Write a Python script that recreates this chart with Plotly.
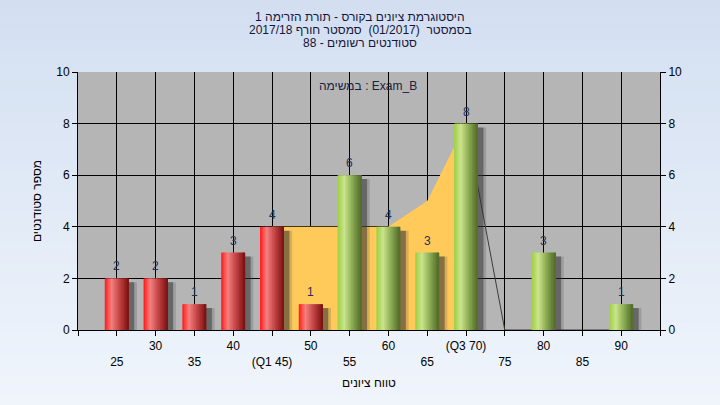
import plotly.graph_objects as go

# ---------------- data ----------------
categories = [25, 30, 35, 40, 45, 50, 55, 60, 65, 70, 75, 80, 85, 90]
tick_labels = ["25", "30", "35", "40", "(Q1 45)", "50", "55", "60", "65",
               "(Q3 70)", "75", "80", "85", "90"]
counts = [2, 2, 1, 3, 4, 1, 6, 4, 3, 8, 0, 3, 0, 1]

iqr_x = [45, 50, 55, 60, 65, 70]
iqr_y = [4, 4, 4, 4, 5, 8]

outline_x = [70, 75, 80, 85, 90]
outline_y = [8, 0, 0, 0, 0]

title_lines = [
    "היסטוגרמת ציונים בקורס - תורת הזרימה 1",
    "בסמסטר  (01/2017)  סמסטר חורף 2017/18",
    "סטודנטים רשומים - 88",
]
series_label = "במשימה : Exam_B"
x_title = "טווח ציונים"
y_title = "מספר סטודנטים"

PASS_GRADE = 55

# ---------------- styling ----------------
FONT = "Liberation Sans, Arial, DejaVu Sans, sans-serif"
W, H = 720, 405
ML, MR, MT, MB = 78, 60, 72, 75
PW, PH = W - ML - MR, H - MT - MB
X_RANGE = [20, 95]
BAR_W = 3.1
N_STRIPES = 16

RED_STOPS = [(0.0, (255, 22, 22)), (0.12, (255, 70, 70)), (0.28, (242, 128, 128)),
             (0.55, (205, 78, 78)), (0.85, (150, 34, 34)), (1.0, (120, 18, 18))]
GREEN_STOPS = [(0.0, (158, 206, 66)), (0.12, (176, 216, 98)), (0.28, (202, 228, 142)),
               (0.55, (150, 182, 92)), (0.85, (100, 128, 54)), (1.0, (82, 108, 42))]


def lerp(stops, t):
    for (t0, c0), (t1, c1) in zip(stops, stops[1:]):
        if t0 <= t <= t1:
            f = (t - t0) / (t1 - t0)
            return "rgb(%d,%d,%d)" % tuple(round(a + (b - a) * f) for a, b in zip(c0, c1))
    return "rgb(%d,%d,%d)" % stops[-1][1]


fig = go.Figure()

# IQR area (base axes, behind bars)
fig.add_trace(go.Scatter(x=iqr_x, y=iqr_y, mode="lines", fill="tozeroy",
                         fillcolor="rgb(255,202,90)", line=dict(width=0),
                         hoverinfo="skip", showlegend=False))
# outline line
fig.add_trace(go.Scatter(x=outline_x, y=outline_y, mode="lines",
                         line=dict(color="rgb(60,60,60)", width=1),
                         hoverinfo="skip", showlegend=False))

# shadows (overlay axes)
shadow_vals = [c - 0.15 if c > 0 else 0 for c in counts]
for off, col in [(1.05, "rgba(60,60,60,0.2)"), (0.7, "rgba(50,50,50,0.5)")]:
    fig.add_trace(go.Bar(x=categories, y=shadow_vals, width=BAR_W,
                         offset=-BAR_W / 2 + off,
                         marker=dict(color=col, line=dict(width=0)),
                         xaxis="x2", yaxis="y2", hoverinfo="skip", showlegend=False))

# gradient bars built from vertical stripes
step = BAR_W / N_STRIPES
for i in range(N_STRIPES):
    t = (i + 0.5) / N_STRIPES
    cols = [lerp(GREEN_STOPS if c >= PASS_GRADE else RED_STOPS, t) for c in categories]
    w = min(step * 1.6, BAR_W - i * step)
    fig.add_trace(go.Bar(x=categories, y=counts, width=w,
                         offset=-BAR_W / 2 + i * step,
                         marker=dict(color=cols, line=dict(width=0)),
                         xaxis="x2", yaxis="y2", hoverinfo="skip", showlegend=False))

# background gradient + plot area
shapes = []
n_bg = 40
y_lo, y_hi = -MB / PH, 1 + MT / PH
x_lo, x_hi = -ML / PW, 1 + MR / PW
top_c, bot_c = (211, 223, 241), (240, 245, 252)
for k in range(n_bg):
    f = k / (n_bg - 1)
    c = tuple(round(a + (b - a) * f) for a, b in zip(top_c, bot_c))
    y1 = y_hi - (y_hi - y_lo) * k / n_bg
    y0 = y_hi - (y_hi - y_lo) * (k + 1) / n_bg - 0.002
    shapes.append(dict(type="rect", xref="paper", yref="paper", x0=x_lo, x1=x_hi,
                       y0=y0, y1=y1, fillcolor="rgb(%d,%d,%d)" % c,
                       line=dict(width=0), layer="below"))
shapes.append(dict(type="rect", xref="paper", yref="paper", x0=0, x1=1, y0=0, y1=1,
                   fillcolor="rgb(181,181,181)", line=dict(width=0), layer="below"))

annotations = []
for ypx, line in zip([17, 30, 43], title_lines):
    annotations.append(dict(text=line, xref="paper", yref="paper",
                            x=(360 - ML) / PW, y=(H - MB - ypx) / PH,
                            xanchor="center", yanchor="middle", showarrow=False,
                            font=dict(size=12, color="#16163a", family=FONT)))
annotations.append(dict(text=series_label, xref="paper", yref="paper",
                        x=(368 - ML) / PW, y=(H - MB - 86) / PH,
                        xanchor="center", yanchor="middle", showarrow=False,
                        font=dict(size=12, color="#1a2040", family=FONT)))
# value labels above bars
for c, v in zip(categories, counts):
    if v > 0:
        annotations.append(dict(text=str(v), xref="x2", yref="y2", x=c, y=v,
                                xanchor="center", yanchor="bottom", yshift=3,
                                showarrow=False,
                                font=dict(size=12, color="#1f2f55", family=FONT)))

ticktext = [("<br>" + t) if i % 2 == 0 else t for i, t in enumerate(tick_labels)]
tickvals = [X_RANGE[0]] + categories + [X_RANGE[1]]
ticktext = [""] + ticktext + [""]

fig.update_layout(
    width=W, height=H,
    margin=dict(l=ML, r=MR, t=MT, b=MB),
    paper_bgcolor="rgb(225,233,246)",
    plot_bgcolor="rgba(0,0,0,0)",
    barmode="overlay",
    showlegend=False,
    font=dict(family=FONT, size=12, color="black"),
    shapes=shapes,
    annotations=annotations,
    xaxis=dict(range=X_RANGE, tickmode="array", tickvals=tickvals, ticktext=ticktext,
               showgrid=True, gridcolor="black", gridwidth=1, zeroline=False,
               showline=True, linecolor="black", linewidth=1,
               ticks="outside", ticklen=5, tickcolor="black",
               tickfont=dict(size=12, color="black"),
               title=dict(text=x_title, font=dict(size=12, color="black"), standoff=10)),
    yaxis=dict(range=[0, 10], dtick=2, showgrid=True, gridcolor="black", gridwidth=1,
               zeroline=False, showline=True, linecolor="black", linewidth=1,
               ticks="outside", ticklen=5, tickcolor="black",
               tickfont=dict(size=12, color="black"),
               title=dict(text=y_title, font=dict(size=12, color="black"), standoff=12)),
    xaxis2=dict(range=X_RANGE, overlaying="x", visible=False, showgrid=False),
    yaxis2=dict(range=[0, 10], dtick=2, overlaying="y", side="right", anchor="x",
                showgrid=False, zeroline=False, showline=True, linecolor="black",
                linewidth=1, ticks="outside", ticklen=5, tickcolor="black",
                tickfont=dict(size=12, color="black")),
)

fig.write_html("out.html", config={"displayModeBar": False},
               post_script="document.body.style.margin='0';document.body.style.padding='0';")
